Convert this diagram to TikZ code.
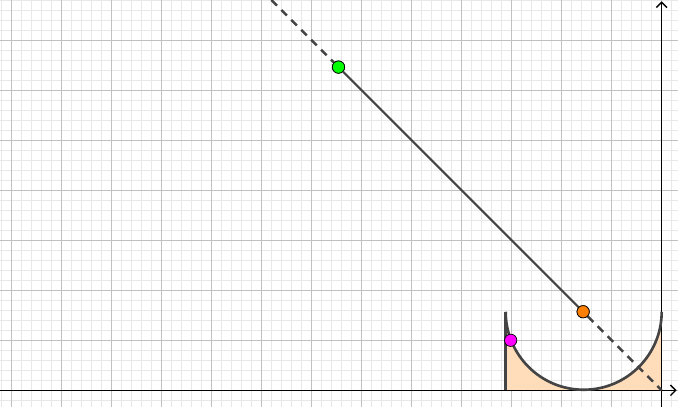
\documentclass[tikz,border=0pt]{standalone}
\usetikzlibrary{arrows.meta}
\definecolor{minorgrid}{RGB}{232,232,232}
\definecolor{majorgrid}{RGB}{192,192,192}
\definecolor{curvecol}{RGB}{68,68,68}
\definecolor{fillcol}{RGB}{255,220,186}
\definecolor{ptgreen}{RGB}{0,255,0}
\definecolor{ptorange}{RGB}{255,127,0}
\definecolor{ptmagenta}{RGB}{255,0,255}
\tikzset{
  minorline/.style={draw=minorgrid, line width=0.4pt},
  majorline/.style={draw=majorgrid, line width=0.55pt},
  axisline/.style={draw=black, line width=0.8pt, -{Straight Barb[length=3pt,width=6pt]}},
  curveline/.style={draw=curvecol, line width=1.5pt},
  segline/.style={draw=curvecol, line width=1.2pt},
  dashline/.style={draw=curvecol, line width=1.4pt, dash pattern=on 4.5pt off 3.5pt},
  ptdot/.style={circle, draw=black, line width=0.4pt, inner sep=0pt, minimum size=7pt}
}
\begin{document}
\begin{tikzpicture}[x=1cm,y=1cm]
\useasboundingbox (-13.234,-0.334) rectangle (0.326,7.806);
% grid
\draw[minorline] (-13.234,-0.334) grid[step=0.2] (0.326,7.806);
\draw[majorline] (-13.234,-0.334) grid[step=1] (0.326,7.806);
% filled region
\fill[fillcol] (-3.12,0) -- (-3.12,1.5708) arc[start angle=180, end angle=360, radius=1.56] -- (0,0) -- cycle;
% axes
\coordinate (xl) at (-13.234,0);
\coordinate (xr) at (0.3,0);
\coordinate (yb) at (0,-0.334);
\coordinate (yt) at (0,7.78);
\draw[axisline] (xl) -- (xr);
\draw[axisline] (yb) -- (yt);
% curve and vertical line
\draw[curveline] (-3.12,0) -- (-3.12,1.5708);
\draw[curveline] (-3.12,1.5708) arc[start angle=180, end angle=360, radius=1.56];
% line y=-x
\coordinate (top) at (-7.806,7.806);
\coordinate (O) at (0,0);
\node[ptdot, fill=ptgreen] (G) at (-6.464,6.464) {};
\node[ptdot, fill=ptorange] (R) at (-1.5708,1.5708) {};
\draw[dashline] (top) -- (G);
\draw[segline] (G) -- (R);
\draw[dashline] (R) -- (O);
\node[ptdot, fill=ptgreen] at (G) {};
\node[ptdot, fill=ptorange] at (R) {};
\node[ptdot, fill=ptmagenta] (M) at (-3.02,1) {};
\end{tikzpicture}
\end{document}
